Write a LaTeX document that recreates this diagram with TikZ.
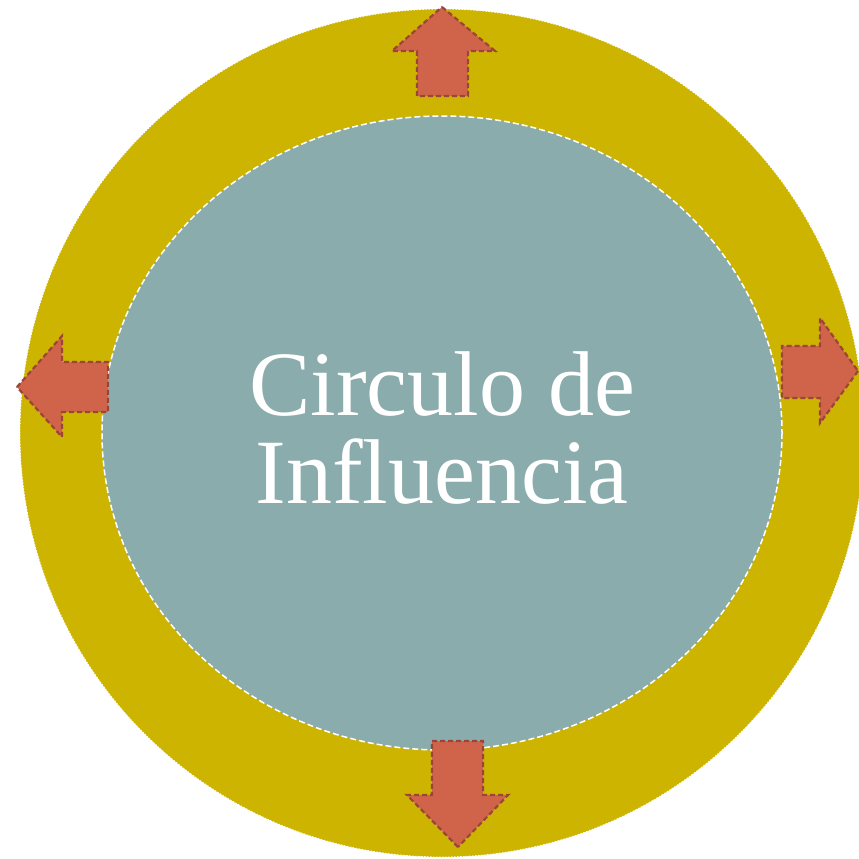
\documentclass[tikz,border=0pt]{standalone}
\usepackage{fontspec}
\setmainfont{Liberation Serif}
\usepackage{tikz}
\usetikzlibrary{calc}

\definecolor{ringyellow}{HTML}{CCB400}
\definecolor{coreteal}{HTML}{8AACAC}
\definecolor{arrowfill}{HTML}{D0644A}
\definecolor{arrowline}{HTML}{9C4536}

\tikzset{
    bigarrow/.style={fill=arrowfill, draw=arrowline, line width=2.2pt,
        dash pattern=on 5pt off 3pt, line join=miter},
}

\begin{document}
\begin{tikzpicture}[
        x=1pt, y=-1pt,
        line cap=butt
    ]
        \useasboundingbox (0,0) rectangle (859,859);
        \clip (0,0) rectangle (859,859);

        \coordinate (M) at (442, 433);

        % outer ring
        \fill[ringyellow] (M) circle [x radius=422, y radius=424];
        \draw[white, line width=0.8pt, dash pattern=on 1.5pt off 1.5pt]
            (M) circle [x radius=422, y radius=424];

        % inner disc
        \fill[coreteal] (M) ellipse [x radius=340, y radius=317];
        \draw[white, line width=1.5pt, dash pattern=on 6pt off 3pt]
            (M) ellipse [x radius=340, y radius=317];

        % arrows
        \draw[bigarrow] (442,7) -- (495,51) -- (468,51) -- (468,96)
            -- (417,96) -- (417,51) -- (392,51) -- cycle;
        \draw[bigarrow] (858,371) -- (820,423) -- (820,398) -- (782,398)
            -- (782,346) -- (820,346) -- (820,318) -- cycle;
        \draw[bigarrow] (17,387) -- (62,336) -- (62,362) -- (108,362)
            -- (108,412) -- (62,412) -- (62,437) -- cycle;
        \draw[bigarrow] (458,847) -- (407,795) -- (432,795) -- (432,741)
            -- (483,741) -- (483,795) -- (508,795) -- cycle;

        \node[white, font=\fontsize{92}{88}\selectfont, align=center]
            (title) at (442,428) {Circulo de\\Influencia};

    \end{tikzpicture}
\end{document}
